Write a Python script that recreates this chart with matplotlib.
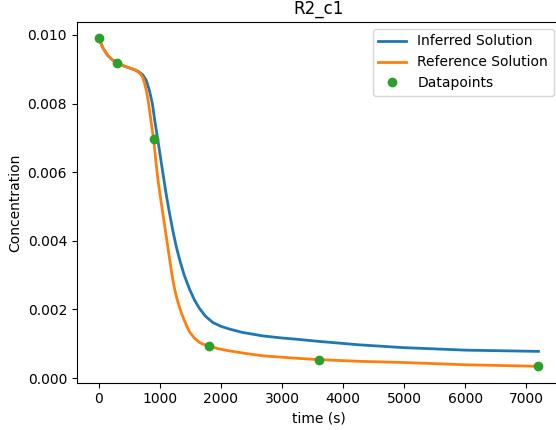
import numpy as np
import matplotlib
matplotlib.use("Agg")
import matplotlib.pyplot as plt

# -----------------------------
# Data, concentration in 1e-3 units
# -----------------------------
t_ref = [0, 66, 147, 220, 300, 420, 530, 612, 680, 720, 750, 780, 810,
         840, 870, 900, 940, 970, 1000, 1050, 1100, 1150, 1180, 1210,
         1240, 1280, 1320, 1360, 1400, 1450, 1490, 1570, 1650, 1720,
         1800, 1950, 2140, 2400, 2690, 3000, 3230, 3600, 4270, 5000,
         6000, 7200]
c_ref = [9.90, 9.63, 9.40, 9.28, 9.19, 9.09, 9.02, 8.97, 8.87, 8.76, 8.60,
         8.38, 8.08, 7.70, 7.32, 6.95, 6.25, 5.78, 5.40, 4.80, 4.20, 3.60,
         3.24, 2.90, 2.62, 2.32, 2.08, 1.87, 1.69, 1.48, 1.34, 1.16, 1.04,
         0.98, 0.94, 0.86, 0.795, 0.72, 0.65, 0.61, 0.58, 0.54, 0.49,
         0.455, 0.39, 0.345]

t_inf = [0, 66, 147, 220, 300, 420, 530, 612, 660, 720, 780, 830, 880,
         910, 950, 985, 1020, 1050, 1090, 1120, 1160, 1210, 1270, 1330,
         1400, 1490, 1570, 1650, 1750, 1870, 2000, 2140, 2360, 2690, 3000,
         3230, 3610, 4270, 4980, 6020, 7200]
c_inf = [9.90, 9.63, 9.40, 9.28, 9.19, 9.09, 9.02, 8.97, 8.92, 8.84, 8.67,
         8.38, 7.98, 7.60, 7.14, 6.74, 6.33, 5.98, 5.52, 5.20, 4.80, 4.33,
         3.83, 3.42, 3.00, 2.58, 2.27, 2.03, 1.80, 1.62, 1.51, 1.43, 1.33,
         1.23, 1.17, 1.135, 1.07, 0.97, 0.89, 0.815, 0.78]

t_data = [0, 300, 900, 1800, 3600, 7200]
c_data = [9.90, 9.19, 6.97, 0.94, 0.535, 0.345]

scale = 1e-3

# -----------------------------
# Figure
# -----------------------------
fig = plt.figure(figsize=(5.56, 4.30), dpi=100)
ax = fig.add_axes([0.138, 0.110, 0.870, 0.839])

ax.plot(t_inf, np.array(c_inf) * scale, color="C0", linewidth=2,
        label="Inferred Solution")
ax.plot(t_ref, np.array(c_ref) * scale, color="C1", linewidth=2,
        label="Reference Solution")
ax.plot(t_data, np.array(c_data) * scale, "o", color="C2", markersize=6,
        label="Datapoints")

ax.set_title("R2_c1")
ax.set_xlabel("time (s)")
ax.set_ylabel("Concentration")
ax.legend(loc="upper right")

fig.savefig("out.png", dpi=100)
